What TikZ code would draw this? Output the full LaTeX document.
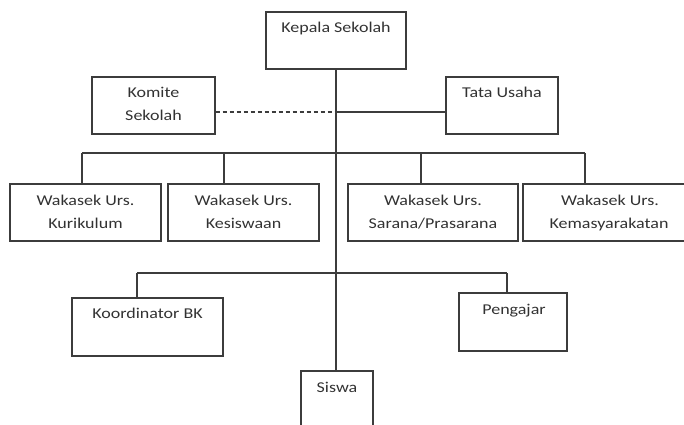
\documentclass[tikz,border=0pt]{standalone}
\usepackage{fontspec}
\setmainfont{Carlito}[FakeStretch=1.2]
\definecolor{inkline}{RGB}{60,60,60}
\definecolor{inktext}{RGB}{50,50,50}
\tikzset{
  orgbox/.style={draw=inkline, line width=1.1pt, rectangle, inner sep=0pt},
  lbl/.style={inner sep=0pt, text=inktext, font=\fontsize{15}{18}\selectfont, anchor=base},
  link/.style={draw=inkline, line width=1.1pt},
  dlink/.style={link, dash pattern=on 4pt off 3pt}
}
\begin{document}
\begin{tikzpicture}[x=1pt, y=-1pt]
\useasboundingbox (0,0) rectangle (684,424);
% boxes
\node[orgbox, minimum width=140pt, minimum height=57pt] (kepala) at (336,40.5) {};
\node[orgbox, minimum width=123pt, minimum height=57pt] (komite) at (153.5,105.5) {};
\node[orgbox, minimum width=112pt, minimum height=57pt] (tata) at (502,105.5) {};
\node[orgbox, minimum width=151pt, minimum height=57pt] (kur) at (85.5,212.5) {};
\node[orgbox, minimum width=151pt, minimum height=57pt] (kes) at (243.5,212.5) {};
\node[orgbox, minimum width=170pt, minimum height=57pt] (sar) at (433,212.5) {};
\node[orgbox, minimum width=180pt, minimum height=57pt] (kem) at (613,212.5) {};
\node[orgbox, minimum width=151pt, minimum height=58pt] (bk) at (147.5,327) {};
\node[orgbox, minimum width=108pt, minimum height=58pt] (peng) at (513,322) {};
\node[orgbox, minimum width=72pt, minimum height=60pt] (siswa) at (337,401) {};
% labels
\node[lbl] (tkepala) at (336,32) {Kepala Sekolah};
\node[lbl] (tkomite1) at (153.5,97) {Komite};
\node[lbl] (tkomite2) at (153.5,120) {Sekolah};
\node[lbl] (ttata) at (502,97) {Tata Usaha};
\node[lbl] (tkur1) at (85.5,205) {Wakasek Urs.};
\node[lbl] (tkur2) at (85.5,228) {Kurikulum};
\node[lbl] (tkes1) at (243.5,205) {Wakasek Urs.};
\node[lbl] (tkes2) at (243.5,228) {Kesiswaan};
\node[lbl] (tsar1) at (433,205) {Wakasek Urs.};
\node[lbl] (tsar2) at (433,228) {Sarana/Prasarana};
\node[lbl] (tkem1) at (610,205) {Wakasek Urs.};
\node[lbl] (tkem2) at (609,228) {Kemasyarakatan};
\node[lbl] (tbk) at (147.5,318) {Koordinator BK};
\node[lbl] (tpeng) at (514,314) {Pengajar};
\node[lbl] (tsiswa) at (337,392) {Siswa};
% junction points
\coordinate (j1) at (336,112);
\coordinate (b1l) at (82,153);
\coordinate (b1a) at (224,153);
\coordinate (b1b) at (421,153);
\coordinate (b1r) at (585,153);
\coordinate (b2l) at (137,273);
\coordinate (b2r) at (507,273);
% connectors
\draw[link] (kepala.south) -- (kepala.south |- siswa.north);
\draw[dlink] (komite.east |- j1) -- (j1);
\draw[link] (j1) -- (tata.west |- j1);
\draw[link] (b1l) -- (b1r);
\draw[link] (b1l) -- (b1l |- kur.north);
\draw[link] (b1a) -- (b1a |- kes.north);
\draw[link] (b1b) -- (b1b |- sar.north);
\draw[link] (b1r) -- (b1r |- kem.north);
\draw[link] (b2l) -- (b2r);
\draw[link] (b2l) -- (b2l |- bk.north);
\draw[link] (b2r) -- (b2r |- peng.north);
\end{tikzpicture}
\end{document}
